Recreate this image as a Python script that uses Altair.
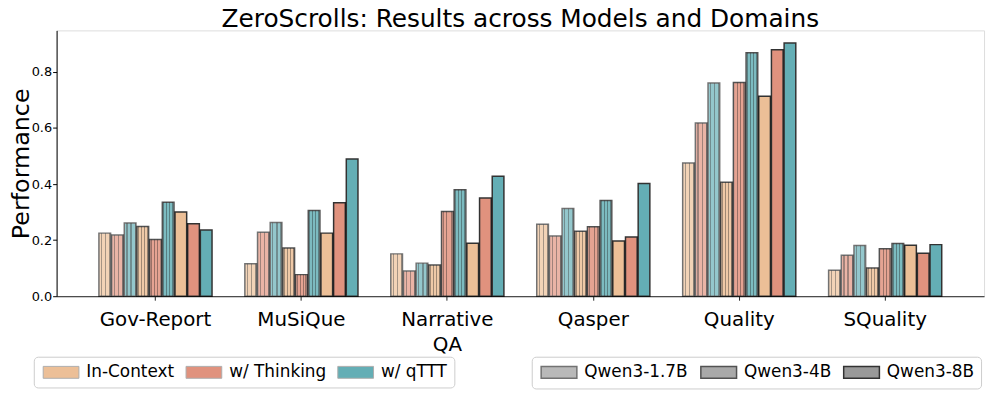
import altair as alt
import pandas as pd

# ---------------- data ----------------
domains = ["Gov-Report", "MuSiQue", "Narrative QA", "Qasper", "Quality", "SQuality"]
models = ["Qwen3-1.7B", "Qwen3-4B", "Qwen3-8B"]
methods = ["In-Context", "w/ Thinking", "w/ qTTT"]

q17_incontext = [0.225, 0.116, 0.151, 0.257, 0.475, 0.093]
q17_thinking = [0.218, 0.228, 0.090, 0.215, 0.618, 0.146]
q17_qttt = [0.261, 0.263, 0.118, 0.313, 0.760, 0.181]

q4_incontext = [0.249, 0.172, 0.111, 0.232, 0.406, 0.101]
q4_thinking = [0.202, 0.077, 0.302, 0.248, 0.762, 0.169]
q4_qttt = [0.335, 0.306, 0.380, 0.341, 0.868, 0.188]

q8_incontext = [0.300, 0.225, 0.189, 0.197, 0.713, 0.182]
q8_thinking = [0.258, 0.333, 0.350, 0.211, 0.879, 0.153]
q8_qttt = [0.236, 0.489, 0.428, 0.402, 0.903, 0.184]

series = {
    "Qwen3-1.7B": [q17_incontext, q17_thinking, q17_qttt],
    "Qwen3-4B": [q4_incontext, q4_thinking, q4_qttt],
    "Qwen3-8B": [q8_incontext, q8_thinking, q8_qttt],
}

rows = []
for model in models:
    for method, vals in zip(methods, series[model]):
        for d, v in zip(domains, vals):
            rows.append({"domain": d, "model": model, "method": method,
                         "slot": model + "|" + method, "value": v})
df = pd.DataFrame(rows)
slot_order = [m + "|" + k for m in models for k in methods]

# ---------------- styles ----------------
method_colors = ["#E8B07E", "#D9775F", "#3E9BA3"]
FONT = "DejaVu Sans"


def stripes(color, bands):
    t = "rgba(0,0,0,0)"
    stops = [{"offset": 0, "color": t}]
    for a, b in bands:
        stops += [{"offset": a, "color": t}, {"offset": a, "color": color},
                  {"offset": b, "color": color}, {"offset": b, "color": t}]
    stops.append({"offset": 1, "color": t})
    return {"gradient": "linear", "x1": 0, "y1": 0, "x2": 1, "y2": 0, "stops": stops}


hatch_17 = stripes("rgba(70,70,70,0.45)", [(0.18, 0.28), (0.53, 0.63), (0.88, 0.98)])
dots_4 = stripes("rgba(30,30,30,0.38)", [(0.10, 0.18), (0.35, 0.43), (0.60, 0.68), (0.85, 0.93)])

x_enc = alt.X(
    "domain:N", sort=domains,
    scale=alt.Scale(domain=domains, paddingInner=0.225, paddingOuter=0.29),
    axis=alt.Axis(title=None, labelAngle=0, labelFontSize=20, labelFont=FONT,
                  labelExpr="split(datum.label, ' ')", labelLineHeight=25,
                  tickSize=4, labelPadding=10, domainColor="#222", tickColor="#222",
                  labelColor="black", domainWidth=1),
)
xo_enc = alt.XOffset("slot:N", sort=slot_order,
                     scale=alt.Scale(domain=slot_order, paddingInner=0.08))
y_enc = alt.Y(
    "value:Q",
    scale=alt.Scale(domain=[0, 0.948], nice=False, zero=True),
    axis=alt.Axis(title="Performance", values=[0, 0.2, 0.4, 0.6, 0.8], format=".1f",
                  titleFontSize=24, titleFontWeight="normal", titleFont=FONT,
                  titleColor="black", titlePadding=-2, labelFontSize=13, labelFont=FONT,
                  labelColor="black", labelPadding=1, tickSize=4, grid=False,
                  domainColor="black", tickColor="black"),
)

legend_common = dict(
    title=None, orient="none", direction="horizontal",
    symbolType="M-1,-1H5V1H-1Z", symbolSize=144,
    labelFontSize=17, labelFont=FONT, labelColor="black", labelOffset=29,
    columnPadding=9, padding=7, fillColor="white", strokeColor="#cccccc",
    cornerRadius=4,
)
method_legend = alt.Legend(legendX=-23, legendY=329, symbolOpacity=0.8,
                           symbolStrokeColor="#999999", symbolStrokeWidth=1,
                           **legend_common)
model_legend = alt.Legend(legendX=479, legendY=329, symbolFillColor="#808080",
                          symbolStrokeColor="black", **legend_common)

base = alt.Chart(df).mark_bar(stroke="black").encode(
    x=x_enc, xOffset=xo_enc, y=y_enc,
    fill=alt.Fill("method:N", sort=methods,
                  scale=alt.Scale(domain=methods, range=method_colors),
                  legend=method_legend),
    opacity=alt.Opacity("model:O", sort=models,
                        scale=alt.Scale(domain=models, range=[0.55, 0.8, 1.0]),
                        legend=model_legend),
    strokeWidth=alt.StrokeWidth("model:O", sort=models,
                                scale=alt.Scale(domain=models, range=[1.5, 1.5, 2.0]),
                                legend=model_legend),
)

tex17 = alt.Chart(df).transform_filter(alt.datum.model == "Qwen3-1.7B").mark_bar(
    fill=hatch_17, strokeWidth=0).encode(x=x_enc, xOffset=xo_enc, y=y_enc)
tex4 = alt.Chart(df).transform_filter(alt.datum.model == "Qwen3-4B").mark_bar(
    fill=dots_4, strokeWidth=0).encode(x=x_enc, xOffset=xo_enc, y=y_enc)

chart = alt.layer(base, tex17, tex4).properties(
    width=935, height=268,
    title=alt.Title("ZeroScrolls: Results across Models and Domains", fontSize=25,
                    fontWeight="normal", font=FONT, anchor="middle", color="black",
                    frame="group", offset=-2),
    autosize=alt.AutoSizeParams(type="none"),
    padding={"left": 49, "top": 21, "right": 5, "bottom": 95},
).configure_view(stroke=None).configure(font=FONT)

chart.save("out.html", embed_options={"renderer": "svg", "actions": False})
